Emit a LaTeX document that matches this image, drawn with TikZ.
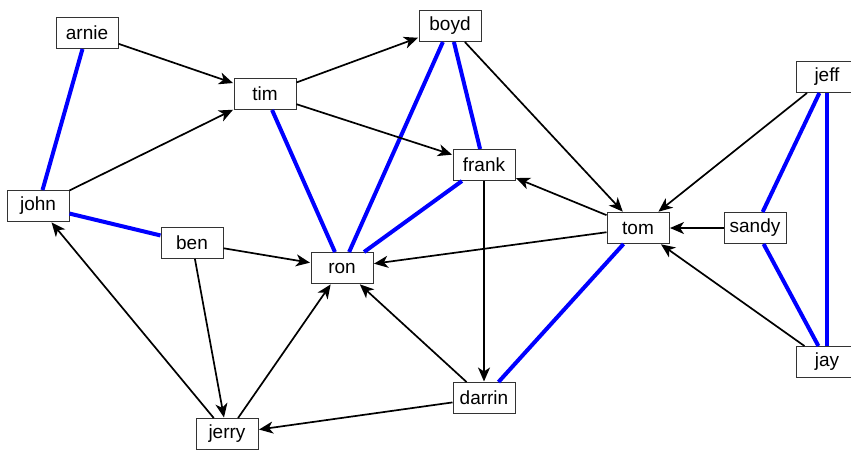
\documentclass[tikz,border=0pt]{standalone}
\usepackage{fontspec}
\setmainfont{Liberation Sans}
\usetikzlibrary{arrows.meta}
\begin{document}
\begin{tikzpicture}[x=1pt,y=-1pt,
  person/.style={draw=black!80, line width=1pt, fill=white, minimum width=62pt,
    minimum height=31pt, inner sep=0pt, font=\fontsize{19}{22}\selectfont},
  follows/.style={draw=black, line width=1.7pt,
    -{Stealth[length=14pt,width=12pt,inset=4pt]}, shorten >=0.5pt},
  tie/.style={draw=blue, line width=4pt}]
\useasboundingbox (0,0) rectangle (851,451);
\begin{scope}
\clip (0,0) rectangle (851,451);
% people
\node[person] (arnie)  at (87,33)   {arnie};
\node[person] (tim)    at (265,94)  {tim};
\node[person] (john)   at (38,206)  {john};
\node[person] (boyd)   at (450,26)  {boyd};
\node[person] (frank)  at (484,165) {frank};
\node[person] (ben)    at (192,243) {ben};
\node[person] (ron)    at (342,268) {ron};
\node[person] (tom)    at (638,228) {tom};
\node[person] (sandy)  at (755,228) {sandy};
\node[person] (jeff)   at (827,77)  {jeff};
\node[person] (jay)    at (827,362) {jay};
\node[person] (darrin) at (484,398) {darrin};
\node[person] (jerry)  at (227,434) {jerry};
% undirected ties
\draw[tie] (arnie) -- (john);
\draw[tie] (john) -- (ben);
\draw[tie] (tim) -- (ron);
\draw[tie] (boyd) -- (ron);
\draw[tie] (boyd) -- (frank);
\draw[tie] (frank) -- (ron);
\draw[tie] (tom) -- (darrin);
\draw[tie] (jeff) -- (sandy);
\draw[tie] (jeff) -- (jay);
\draw[tie] (sandy) -- (jay);
% directed links
\draw[follows] (arnie) -- (tim);
\draw[follows] (john) -- (tim);
\draw[follows] (tim) -- (boyd);
\draw[follows] (tim) -- (frank);
\draw[follows] (boyd) -- (tom);
\draw[follows] (tom) -- (frank);
\draw[follows] (tom) -- (ron);
\draw[follows] (ben) -- (ron);
\draw[follows] (ben) -- (jerry);
\draw[follows] (jerry) -- (ron);
\draw[follows] (jerry) -- (john);
\draw[follows] (darrin) -- (ron);
\draw[follows] (darrin) -- (jerry);
\draw[follows] (frank) -- (darrin);
\draw[follows] (jeff) -- (tom);
\draw[follows] (sandy) -- (tom);
\draw[follows] (jay) -- (tom);
\end{scope}
\end{tikzpicture}
\end{document}
